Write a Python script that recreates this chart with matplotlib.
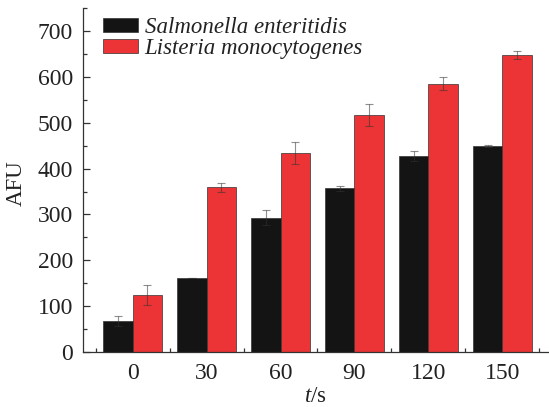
import numpy as np
import matplotlib
matplotlib.use("Agg")
import matplotlib.pyplot as plt

plt.rcParams['font.family'] = ['Liberation Serif', 'DejaVu Serif']
plt.rcParams['mathtext.fontset'] = 'custom'
plt.rcParams['mathtext.rm'] = 'Liberation Serif'
plt.rcParams['mathtext.it'] = 'Liberation Serif:italic'

# 反应时间 (s)
times = ['0', '30', '60', '90', '120', '150']

# 荧光强度 AFU 及误差
salmonella = [68, 161, 293, 357, 428, 449]
salmonella_err = [11, 0, 17, 5, 11, 2]
listeria = [124, 359, 434, 517, 585, 648]
listeria_err = [22, 10, 24, 24, 14, 8]

fig = plt.figure(figsize=(5.49, 4.07), dpi=100)
ax = fig.add_axes([0.1506, 0.1351, 0.848, 0.8451])

x = np.arange(len(times))
w = 0.4
# 半透明误差线：白底上呈灰色，红柱上偏暗红
err_kw = dict(ecolor=(0.2, 0.2, 0.2, 0.55), elinewidth=0.8, capsize=3, capthick=0.8)

ax.bar(x - w / 2, salmonella, w, yerr=salmonella_err, color='#141414',
       edgecolor='#333333', linewidth=0.5, error_kw=err_kw,
       label='Salmonella enteritidis')
ax.bar(x + w / 2, listeria, w, yerr=listeria_err, color='#ec3335',
       edgecolor='#333333', linewidth=0.5, error_kw=err_kw,
       label='Listeria monocytogenes')

ax.set_xlim(-0.675, 5.62)
ax.set_ylim(0, 750)

for s in ['top', 'right']:
    ax.spines[s].set_visible(False)
for s in ['left', 'bottom']:
    ax.spines[s].set_color('#333333')
    ax.spines[s].set_linewidth(0.9)

ax.set_yticks(np.arange(0, 701, 100))
ax.set_yticks(np.arange(50, 751, 100), minor=True)
ax.set_xticks(x)
ax.set_xticklabels(times)
ax.set_xticks(np.arange(-0.5, 5.6, 1), minor=True)

ax.tick_params(axis='y', which='major', direction='in', length=5, width=0.9,
               color='#333333', labelsize=17, pad=7, labelcolor='#222222')
ax.tick_params(axis='y', which='minor', direction='in', length=3, width=0.9,
               color='#333333')
ax.tick_params(axis='x', which='major', length=0, labelsize=17, pad=8,
               labelcolor='#222222')
ax.tick_params(axis='x', which='minor', direction='in', length=3, width=0.9,
               color='#333333')

ax.set_ylabel('AFU', fontsize=16.5, color='#222222')
ax.yaxis.set_label_coords(-0.12, 0.49)
ax.set_xlabel('$t$/s', fontsize=16.5, color='#222222')
ax.xaxis.set_label_coords(0.5, -0.1)

leg = ax.legend(loc='upper left', bbox_to_anchor=(0.01, 1.02), frameon=False,
                prop={'style': 'italic', 'size': 16.5}, handlelength=1.5,
                handleheight=0.6, handletextpad=0.3, labelspacing=0.0,
                borderaxespad=0.3)
for t in leg.get_texts():
    t.set_color('#222222')

fig.savefig('out.png', dpi=100)
